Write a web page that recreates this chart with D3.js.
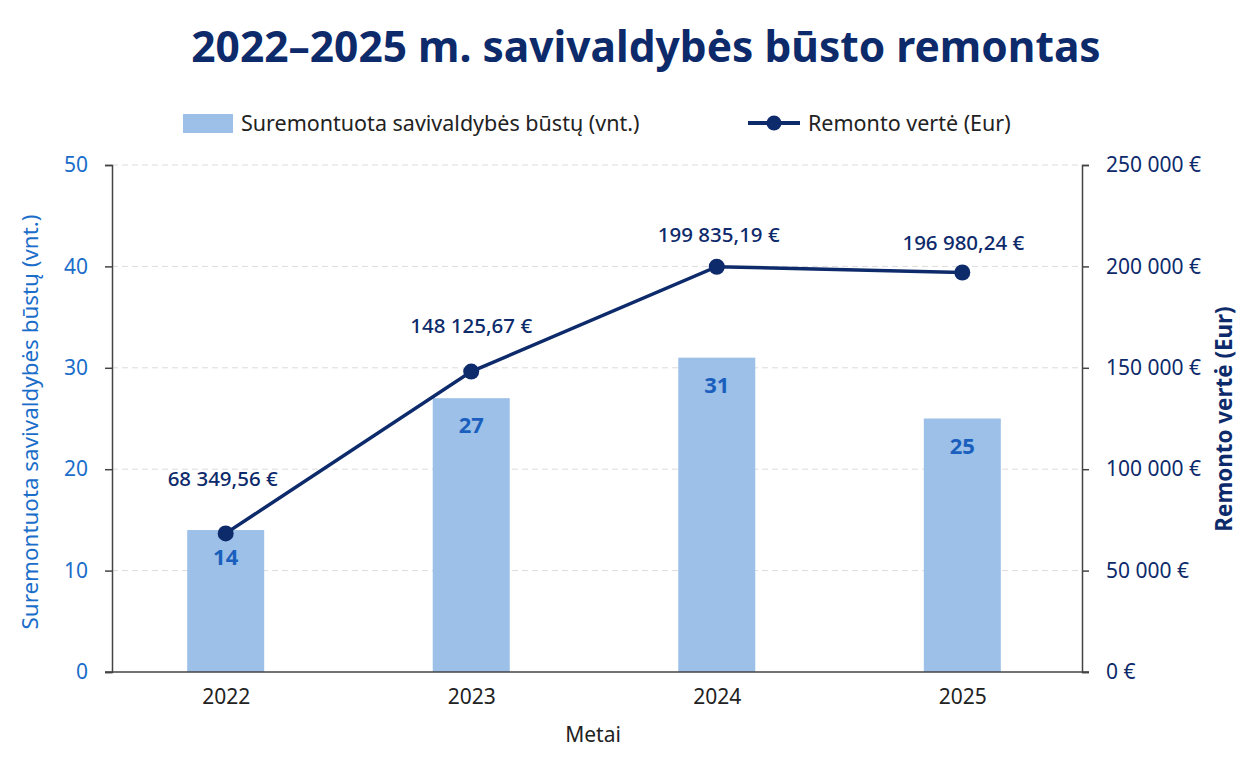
<!DOCTYPE html>
<html><head><meta charset="utf-8">
<script src="https://cdn.jsdelivr.net/npm/d3@7/dist/d3.min.js"></script>
<style>
html,body{margin:0;padding:0;background:#fff;}
svg{display:block;font-family:"Noto Sans","Open Sans",sans-serif;}
</style></head>
<body><svg id="c" width="1245" height="763"></svg>
<script>
const years = ["2022","2023","2024","2025"];
const units = [14, 27, 31, 25];
const values = [68349.56, 148125.67, 199835.19, 196980.24];
const leftTicks = [0,10,20,30,40,50];
const rightTicks = [0,50000,100000,150000,200000,250000];

const navy = "#0d2a6b", blue = "#1a6dc9", barBlue = "#9cc0e8", labelBlue = "#1a5fbd";
const svg = d3.select("#c");
const L = 112, R = 1082, T = 165, B = 672;

const x = d3.scalePoint().domain(years).range([L, R - 6]).padding(0.463);
const yL = d3.scaleLinear().domain([0, 50]).range([B, T]);
const yR = d3.scaleLinear().domain([0, 250000]).range([B, T]);
const bw = 77;

const nf = (v, dec) => {
  const s = v.toFixed(dec).split(".");
  const int = s[0].replace(/\B(?=(\d{3})+(?!\d))/g, "\u00a0");
  return dec ? int + "," + s[1] : int;
};

// title
svg.append("text").attr("x", 646).attr("y", 62).attr("text-anchor","middle")
  .attr("font-size", 42.5).attr("font-weight", 700).attr("fill", navy)
  .text("2022–2025 m. savivaldybės būsto remontas");

// legend
const lg = svg.append("g");
lg.append("rect").attr("x",183).attr("y",114).attr("width",50).attr("height",19).attr("fill",barBlue);
lg.append("text").attr("x",241).attr("y",131).attr("font-size",21.5).attr("fill","#222")
  .text("Suremontuota savivaldybės būstų (vnt.)");
lg.append("line").attr("x1",748).attr("x2",800).attr("y1",123).attr("y2",123)
  .attr("stroke",navy).attr("stroke-width",4);
lg.append("circle").attr("cx",774).attr("cy",123).attr("r",7.5).attr("fill",navy);
lg.append("text").attr("x",808).attr("y",131).attr("font-size",21.5).attr("fill","#222")
  .text("Remonto vertė (Eur)");

// gridlines
svg.append("g").selectAll("line").data(leftTicks.filter(d=>d>0)).join("line")
  .attr("x1", L).attr("x2", R).attr("y1", d=>yL(d)).attr("y2", d=>yL(d))
  .attr("stroke", "#dcdcdc").attr("stroke-width",1).attr("stroke-dasharray","6,4");

// bars
svg.append("g").selectAll("rect").data(units).join("rect")
  .attr("x", (d,i)=>x(years[i]) - bw/2).attr("width", bw)
  .attr("y", d=>yL(d)).attr("height", d=>B - yL(d)).attr("fill", barBlue);
svg.append("g").selectAll("text").data(units).join("text")
  .attr("x",(d,i)=>x(years[i])).attr("y", d=>yL(d)+35).attr("text-anchor","middle")
  .attr("font-size",22).attr("font-weight",700).attr("fill",labelBlue).text(d=>d);

// axes
const tf = "'Noto Sans',sans-serif";
const axL = d3.axisLeft(yL).tickValues(leftTicks).tickSize(7).tickPadding(17);
const gL = svg.append("g").attr("transform",`translate(${L},0)`).call(axL);
gL.select(".domain").attr("stroke","#444").attr("stroke-width",1.5);
gL.selectAll(".tick line").attr("stroke","#444").attr("stroke-width",1.5);
gL.selectAll(".tick text").attr("fill",blue).attr("font-size",21).attr("font-family",tf);

const axR = d3.axisRight(yR).tickValues(rightTicks).tickSize(7).tickPadding(17)
  .tickFormat(d=>nf(d,0)+" €");
const gR = svg.append("g").attr("transform",`translate(${R},0)`).call(axR);
gR.select(".domain").attr("stroke","#444").attr("stroke-width",1.5);
gR.selectAll(".tick line").attr("stroke","#444").attr("stroke-width",1.5);
gR.selectAll(".tick text").attr("fill",navy).attr("font-size",21).attr("font-family",tf);

const axB = d3.axisBottom(x).tickSize(0).tickPadding(17);
const gB = svg.append("g").attr("transform",`translate(0,${B})`).call(axB);
gB.select(".domain").attr("d", `M${L-7},0H${R+7}`).attr("stroke","#444").attr("stroke-width",1.5);
gB.selectAll(".tick text").attr("fill","#222").attr("font-size",21).attr("font-family",tf);

// axis titles
svg.append("text").attr("x",593).attr("y",742).attr("text-anchor","middle")
  .attr("font-size",21).attr("fill","#222").text("Metai");
svg.append("text").attr("transform","translate(38,422) rotate(-90)").attr("text-anchor","middle")
  .attr("font-size",22.4).attr("fill",blue).text("Suremontuota savivaldybės būstų (vnt.)");
svg.append("text").attr("transform","translate(1232,419) rotate(-90)").attr("text-anchor","middle")
  .attr("font-size",22.4).attr("font-weight",700).attr("fill",navy).text("Remonto vertė (Eur)");

// line
const line = d3.line().x((d,i)=>x(years[i])).y(d=>yR(d));
svg.append("path").datum(values).attr("d",line).attr("fill","none")
  .attr("stroke",navy).attr("stroke-width",3.5);
svg.append("g").selectAll("circle").data(values).join("circle")
  .attr("cx",(d,i)=>x(years[i])).attr("cy",d=>yR(d)).attr("r",8).attr("fill",navy);
const lblOff = [-47, -39, -25, -23];
const lblDx = [-3, 0, 2, 1];
svg.append("g").selectAll("text").data(values).join("text")
  .attr("x",(d,i)=>x(years[i]) + lblDx[i]).attr("y",(d,i)=>yR(d)+lblOff[i])
  .attr("text-anchor","middle").attr("font-size",20.5).attr("font-weight",500).attr("fill",navy)
  .text(d=>nf(d,2)+" €");
</script></body></html>
